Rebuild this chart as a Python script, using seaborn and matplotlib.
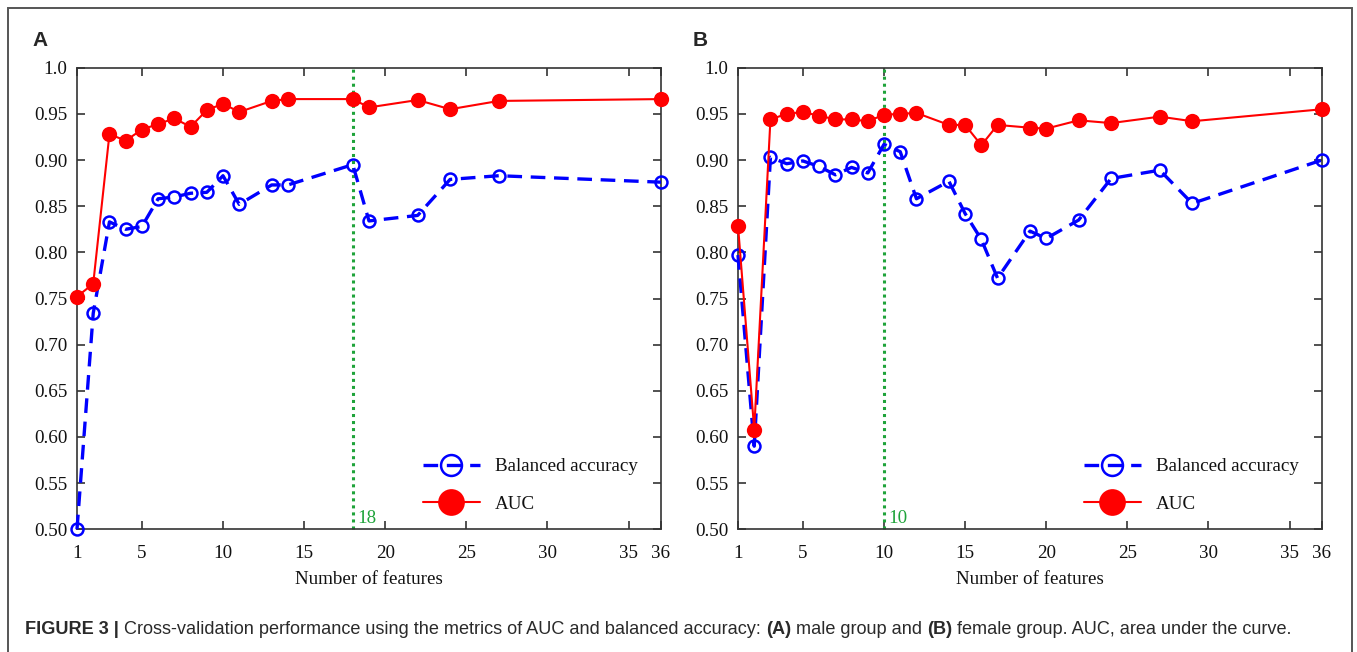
import numpy as np
import pandas as pd
import matplotlib
matplotlib.use("Agg")
import matplotlib.pyplot as plt
import seaborn as sns
from matplotlib.patches import Rectangle

# ---------------- data ----------------
x_male = [1, 2, 3, 4, 5, 6, 7, 8, 9, 10, 11, 13, 14, 18, 19, 22, 24, 27, 36]
auc_male = [0.752, 0.766, 0.928, 0.921, 0.933, 0.939, 0.945, 0.936, 0.954, 0.961,
            0.952, 0.964, 0.966, 0.966, 0.957, 0.965, 0.955, 0.964, 0.966]
ba_male = [0.500, 0.734, 0.833, 0.825, 0.828, 0.858, 0.860, 0.864, 0.865, 0.883,
           0.852, 0.873, 0.873, 0.895, 0.834, 0.840, 0.879, 0.883, 0.876]

x_female = [1, 2, 3, 4, 5, 6, 7, 8, 9, 10, 11, 12, 14, 15, 16, 17, 19, 20, 22, 24, 27, 29, 36]
auc_female = [0.829, 0.608, 0.944, 0.950, 0.952, 0.948, 0.944, 0.944, 0.942, 0.949,
              0.950, 0.951, 0.938, 0.938, 0.916, 0.938, 0.935, 0.934, 0.943, 0.940,
              0.947, 0.942, 0.955]
ba_female = [0.797, 0.590, 0.903, 0.896, 0.899, 0.893, 0.884, 0.892, 0.886, 0.917,
             0.909, 0.858, 0.877, 0.842, 0.814, 0.772, 0.823, 0.815, 0.835, 0.880,
             0.889, 0.853, 0.900]

best_male = 18
best_female = 10

xticks = [1, 5, 10, 15, 20, 25, 30, 35, 36]
yticks = [0.50, 0.55, 0.60, 0.65, 0.70, 0.75, 0.80, 0.85, 0.90, 0.95, 1.0]
ytick_labels = ["0.50", "0.55", "0.60", "0.65", "0.70", "0.75", "0.80", "0.85", "0.90", "0.95", "1.0"]
panel_labels = ["A", "B"]
legend_labels = ["Balanced accuracy", "AUC"]
xlabel = "Number of features"
caption_bold = "FIGURE 3 |"
caption_parts = [(" Cross-validation performance using the metrics of AUC and balanced accuracy: ", "normal"),
                 ("(A)", "bold"), (" male group and ", "normal"),
                 ("(B)", "bold"), (" female group. AUC, area under the curve.", "normal")]

# the original axis stretches the last interval (35 -> 36) to twice the width
def fwd(x):
    x = np.asarray(x, dtype=float)
    return np.where(x <= 35, x, 35 + 2 * (x - 35))

def inv(u):
    u = np.asarray(u, dtype=float)
    return np.where(u <= 35, u, 35 + (u - 35) / 2)

# ---------------- style ----------------
sns.set_style("ticks")
plt.rcParams["font.family"] = ["Liberation Serif", "DejaVu Serif"]
plt.rcParams["xtick.direction"] = "in"
plt.rcParams["ytick.direction"] = "in"

W, H = 1357, 652
fig = plt.figure(figsize=(W / 100, H / 100), dpi=100)
fig.patch.set_facecolor("white")

def fx(px):
    return px / W

def fy(py):
    return 1 - py / H

axes_px = [(77, 661), (738, 1322)]
top_px, bot_px = 67.7, 529.3

spine_col = "#333333"
blue = "#0000ff"
red = "#ff0000"
green = "#1fa33a"
fs = 13.7

panels = [(x_male, ba_male, auc_male, best_male), (x_female, ba_female, auc_female, best_female)]

for i, ((l, r), (xs, ba, auc, best)) in enumerate(zip(axes_px, panels)):
    ax = fig.add_axes([fx(l), fy(bot_px), (r - l) / W, (bot_px - top_px) / H])
    ax.set_xscale("function", functions=(fwd, inv))
    ax.axvline(best, color=green, lw=2.2, ls=(0, (1, 1.3)), zorder=1)
    df_ba = pd.DataFrame({"x": xs, "y": ba})
    df_auc = pd.DataFrame({"x": xs, "y": auc})
    sns.lineplot(data=df_ba, x="x", y="y", ax=ax, color=blue, lw=2.4,
                 marker="o", markersize=8.6, markerfacecolor="none",
                 markeredgecolor=blue, markeredgewidth=1.8,
                 label=legend_labels[0], zorder=3)
    ax.lines[-1].set_linestyle((0, (4.4, 2.6)))
    sns.lineplot(data=df_auc, x="x", y="y", ax=ax, color=red, lw=1.5,
                 marker="o", markersize=11, markerfacecolor=red,
                 markeredgecolor=red, markeredgewidth=0,
                 label=legend_labels[1], zorder=4)
    for ln in ax.lines:
        ln.set_clip_on(False)
    ax.set_xlim(1, 36)
    ax.set_ylim(0.5, 1.0)
    ax.set_xticks(xticks)
    ax.set_xticklabels([str(t) for t in xticks])
    ax.minorticks_off()
    ax.set_yticks(yticks)
    ax.set_yticklabels(ytick_labels)
    ax.tick_params(axis="both", which="both", direction="in", length=5.5, width=1.2,
                   colors=spine_col, labelcolor="#111111", labelsize=fs,
                   top=True, right=True, pad=7)
    ax.tick_params(axis="x", pad=11)
    for sp in ax.spines.values():
        sp.set_visible(True)
        sp.set_color(spine_col)
        sp.set_linewidth(1.2)
    ax.set_xlabel(xlabel, fontsize=fs, color="#111111", labelpad=7)
    ax.set_ylabel("")
    ax.text(best + 0.25, 0.503, str(best), color=green, fontsize=fs,
            ha="left", va="bottom")
    leg = ax.legend(loc="lower right", bbox_to_anchor=(0.99, -0.002), frameon=False,
                    fontsize=fs, handlelength=3.0, markerscale=1.75,
                    labelspacing=1.07, handletextpad=0.8)
    for t in leg.get_texts():
        t.set_color("#111111")
    fig.text(fx(l - 45), fy(40), panel_labels[i], fontsize=15, fontweight="bold",
             family=["Liberation Sans", "DejaVu Sans"], ha="left", va="center")

# outer frame
fig.patches.append(Rectangle((fx(8), -0.05), fx(1352) - fx(8), fy(8) + 0.05,
                             transform=fig.transFigure, fill=False,
                             edgecolor="#555555", lw=1.4))

# caption
cap_fam = ["Liberation Sans", "DejaVu Sans"]
cap_fs = 13.1
t1 = fig.text(fx(25), fy(630), caption_bold, fontsize=cap_fs, fontweight="bold",
              family=cap_fam, color="#2a2a2a", ha="left", va="center")
fig.canvas.draw()
renderer = fig.canvas.get_renderer()
xpos = t1.get_window_extent(renderer).x1
for txt, wt in caption_parts:
    t = fig.text(xpos / W, fy(630), txt, fontsize=cap_fs, fontweight=wt,
                 family=cap_fam, color="#2a2a2a", ha="left", va="center")
    fig.canvas.draw()
    xpos = t.get_window_extent(renderer).x1

fig.savefig("out.png", dpi=100)
